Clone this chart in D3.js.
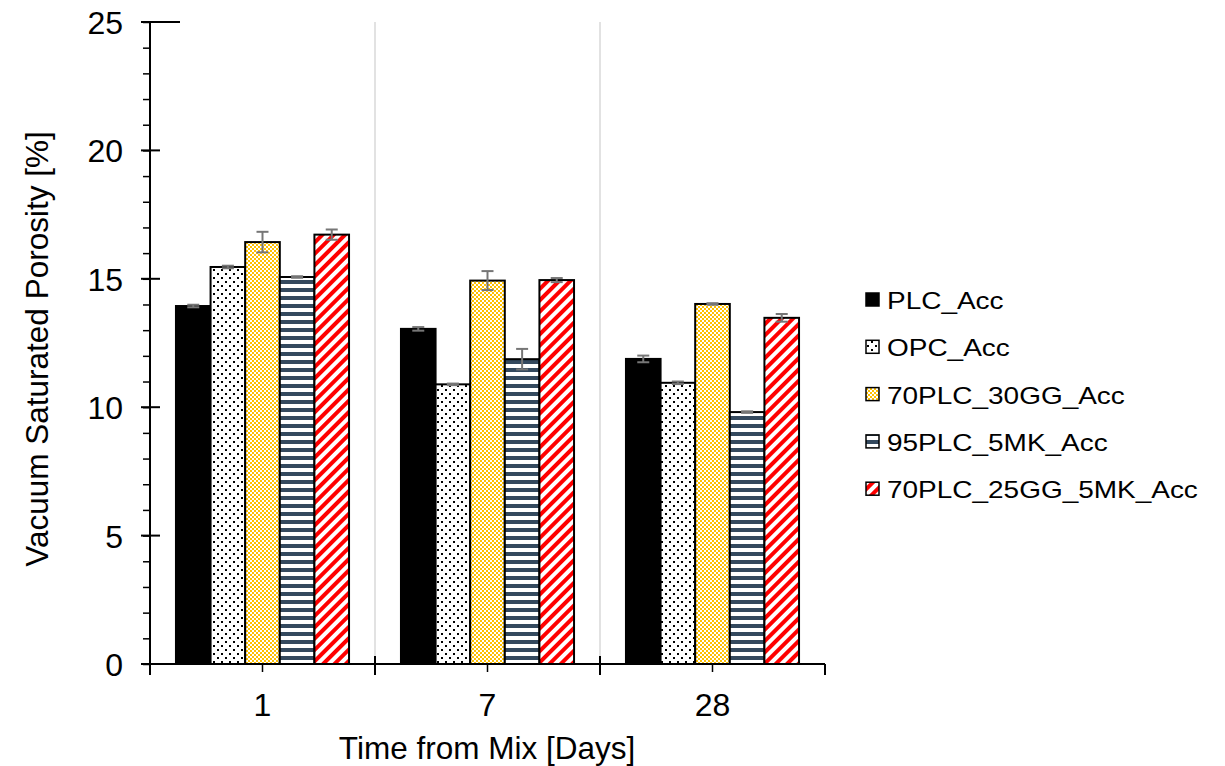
<!DOCTYPE html>
<html><head><meta charset="utf-8">
<script src="https://cdn.jsdelivr.net/npm/d3@7"></script>
<style>body{margin:0;background:#fff}svg text{font-family:"Liberation Sans",Arial,sans-serif;fill:#000}</style>
</head><body><svg id="c" width="1225" height="766"></svg>
<script>
const categories = ["1","7","28"];
const series = ["PLC_Acc","OPC_Acc","70PLC_30GG_Acc","95PLC_5MK_Acc","70PLC_25GG_5MK_Acc"];
const PLC_Acc = [13.94, 13.05, 11.88];
const OPC_Acc = [15.46, 10.89, 10.95];
const GG30_Acc = [16.43, 14.93, 14.02];
const MK5_Acc = [15.07, 11.87, 9.81];
const GG25MK5_Acc = [16.72, 14.95, 13.48];
const PLC_err = [0.05, 0.07, 0.13];
const OPC_err = [0.05, 0.03, 0.05];
const GG30_err = [0.4, 0.37, 0.03];
const MK5_err = [0.03, 0.4, 0.03];
const GG25MK5_err = [0.2, 0.08, 0.15];
const yTicks = [0,5,10,15,20,25];

const values = [PLC_Acc, OPC_Acc, GG30_Acc, MK5_Acc, GG25MK5_Acc];
const errs = [PLC_err, OPC_err, GG30_err, MK5_err, GG25MK5_err];

const svg = d3.select("#c");
const defs = svg.append("defs");
const pDots = defs.append("pattern").attr("id","p1").attr("patternUnits","userSpaceOnUse").attr("width",8).attr("height",8);
pDots.append("rect").attr("width",8).attr("height",8).attr("fill","#fff");
pDots.append("rect").attr("x",1).attr("y",1).attr("width",2).attr("height",2).attr("fill","#000");
pDots.append("rect").attr("x",5).attr("y",5).attr("width",2).attr("height",2).attr("fill","#000");
const pChk = defs.append("pattern").attr("id","p2").attr("patternUnits","userSpaceOnUse").attr("width",4).attr("height",4);
pChk.append("rect").attr("width",4).attr("height",4).attr("fill","#fff");
pChk.append("rect").attr("width",2).attr("height",2).attr("fill","#FFC000");
pChk.append("rect").attr("x",2).attr("y",2).attr("width",2).attr("height",2).attr("fill","#FFC000");
const pStr = defs.append("pattern").attr("id","p3").attr("patternUnits","userSpaceOnUse").attr("width",8).attr("height",8);
pStr.append("rect").attr("width",8).attr("height",8).attr("fill","#fff");
pStr.append("rect").attr("y",0).attr("width",8).attr("height",4).attr("fill","#34495e");
const pDiag = defs.append("pattern").attr("id","p4").attr("patternUnits","userSpaceOnUse").attr("width",8).attr("height",8).attr("patternTransform","rotate(45)");
pDiag.append("rect").attr("width",8).attr("height",8).attr("fill","#fff");
pDiag.append("rect").attr("width",4).attr("height",8).attr("fill","#FF0000");
const fills = ["#000","url(#p1)","url(#p2)","url(#p3)","url(#p4)"];

function stretch(sel, k){
  sel.each(function(){ const L = this.getComputedTextLength(); d3.select(this).attr("textLength", L*k).attr("lengthAdjust","spacingAndGlyphs"); });
}

const x = d3.scaleBand().domain(categories).range([150,825]).padding(0);
const bw = x.bandwidth()/6.5;
const xs = d3.scaleBand().domain(series).range([(x.bandwidth()-5*bw)/2,(x.bandwidth()+5*bw)/2]).padding(0);
const y = d3.scaleLinear().domain([0,25]).range([664,22]);

svg.append("g").selectAll("line").data(categories.slice(1)).join("line")
  .attr("x1",d=>x(d)).attr("x2",d=>x(d)).attr("y1",y(25)).attr("y2",y(0))
  .attr("stroke","#d9d9d9").attr("stroke-width",1.5);

const g = svg.append("g");
series.forEach((s,i)=>{
  g.append("g").selectAll("rect").data(categories).join("rect")
    .attr("x",(d)=>x(d)+xs(s)).attr("width",xs.bandwidth())
    .attr("y",(d,j)=>y(values[i][j])).attr("height",(d,j)=>y(0)-y(values[i][j]))
    .attr("fill",fills[i]).attr("stroke","#000").attr("stroke-width",2);
});
series.forEach((s,i)=>{
  const eg = g.append("g").attr("stroke","#767676").attr("stroke-width",2);
  categories.forEach((c,j)=>{
    const cx = x(c)+xs(s)+xs.bandwidth()/2;
    const v = values[i][j], e = errs[i][j];
    eg.append("line").attr("x1",cx).attr("x2",cx).attr("y1",y(v+e)).attr("y2",y(v-e));
    eg.append("line").attr("x1",cx-6).attr("x2",cx+6).attr("y1",y(v+e)).attr("y2",y(v+e));
    eg.append("line").attr("x1",cx-6).attr("x2",cx+6).attr("y1",y(v-e)).attr("y2",y(v-e));
  });
});

const ya = svg.append("g").attr("transform","translate(150,0)");
ya.call(d3.axisLeft(y).tickValues(d3.range(0,26,1)).tickSize(7).tickFormat(""));
ya.select(".domain").remove();
ya.selectAll("line").attr("stroke","#000").attr("stroke-width",1.5);
ya.append("line").attr("x1",0).attr("x2",0).attr("y1",y(25)).attr("y2",y(0)).attr("stroke","#000").attr("stroke-width",2);
ya.selectAll(".maj").data(yTicks).join("line").attr("class","maj")
  .attr("x1",-9).attr("x2",d=>d===25?30:10).attr("y1",d=>y(d)).attr("y2",d=>y(d)).attr("stroke","#000").attr("stroke-width",2);
ya.selectAll(".lab").data(yTicks).join("text").attr("class","lab")
  .attr("x",-27).attr("y",d=>y(d)+12).attr("text-anchor","end").attr("font-size",32)
  .text(d=>d);

const xa = svg.append("g");
xa.append("line").attr("x1",141).attr("x2",825).attr("y1",y(0)).attr("y2",y(0)).attr("stroke","#000").attr("stroke-width",2);
const bounds = [0,1,2,3];
xa.selectAll(".bt").data(bounds).join("line").attr("class","bt")
  .attr("x1",i=>i<3?x(categories[i]):x(categories[2])+x.bandwidth()).attr("x2",i=>i<3?x(categories[i]):x(categories[2])+x.bandwidth())
  .attr("y1",i=>(i===1||i===2)?y(0)-8:y(0)).attr("y2",y(0)+11).attr("stroke","#000").attr("stroke-width",2);
xa.selectAll(".ct").data(categories).join("line").attr("class","ct")
  .attr("x1",d=>x(d)+x.bandwidth()/2).attr("x2",d=>x(d)+x.bandwidth()/2)
  .attr("y1",y(0)).attr("y2",y(0)+8).attr("stroke","#000").attr("stroke-width",1.5);
xa.selectAll("text").data(categories).join("text")
  .attr("x",d=>x(d)+x.bandwidth()/2).attr("y",716).attr("text-anchor","middle").attr("font-size",32)
  .text(d=>d);

svg.append("text").attr("x",487).attr("y",759).attr("text-anchor","middle").attr("font-size",31.5)
  .text("Time from Mix [Days]");
svg.append("text").attr("transform","translate(48,349) rotate(-90)").attr("text-anchor","middle").attr("font-size",31.5)
  .text("Vacuum Saturated Porosity [%]");

const lg = svg.append("g").attr("transform","translate(866,0)");
series.forEach((s,i)=>{
  const cy = 300 + i*47.3;
  lg.append("rect").attr("x",0).attr("y",cy-7).attr("width",13).attr("height",13)
    .attr("fill",fills[i]).attr("stroke","#000").attr("stroke-width",1.5);
  lg.append("text").attr("x",21).attr("y",cy+9).attr("font-size",24).text(s).call(stretch,1.165);
});
</script></body></html>
